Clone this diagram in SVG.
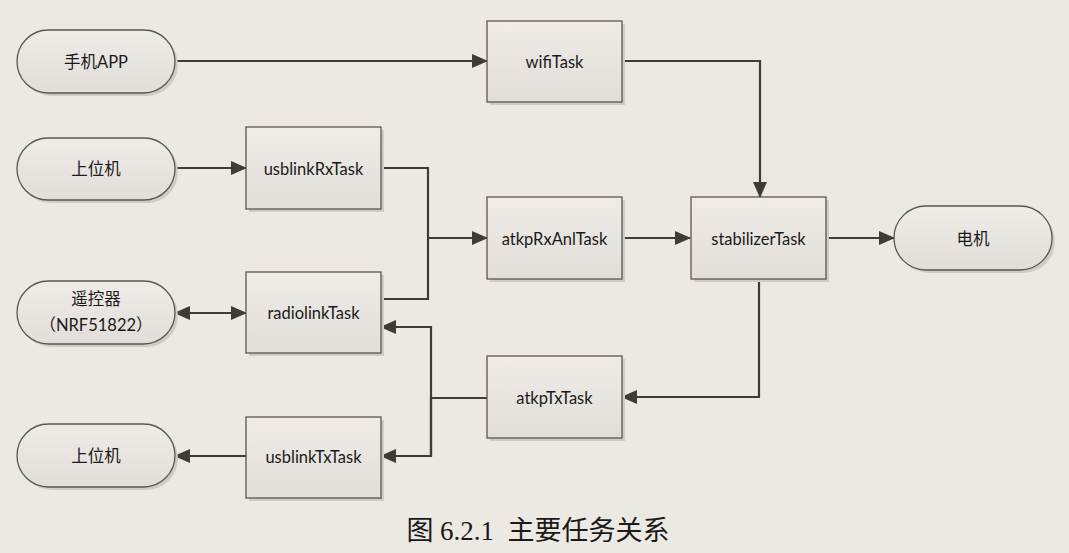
<svg xmlns="http://www.w3.org/2000/svg" width="1069" height="553" viewBox="0 0 1069 553">
<defs>
<linearGradient id="g" x1="0" y1="0" x2="0" y2="1">
<stop offset="0" stop-color="#efece8"/>
<stop offset="1" stop-color="#e1ded9"/>
</linearGradient>
<marker id="ah" markerWidth="16" markerHeight="14" refX="15" refY="7" orient="auto-start-reverse" markerUnits="userSpaceOnUse">
<path d="M0,0 L16,7 L0,14 Z" fill="#3f3b37"/>
</marker>
<style>
.box{fill:url(#g);stroke:#5a5652;stroke-width:1.3}
.sh{fill:#cfcbc6}
.t{font-family:Lato,"Noto Sans CJK SC",sans-serif;font-size:16.5px;fill:#1a1a1a;text-anchor:middle;dominant-baseline:central}
.c{fill:none;stroke:#3f3b37;stroke-width:2.2}
.cap{font-family:"Liberation Serif","Noto Sans CJK SC",serif;font-size:27px;fill:#1a1a1a;text-anchor:middle}
</style>
</defs>
<rect width="1069" height="553" fill="#ece8e2"/>
<g id="connectors">
<path class="c" d="M175,61 H487" marker-end="url(#ah)"/>
<path class="c" d="M622,61 H760 V197" marker-end="url(#ah)"/>
<path class="c" d="M175,168 H246" marker-end="url(#ah)"/>
<path class="c" d="M381,168 H428 V299 H381"/>
<path class="c" d="M428,238 H487" marker-end="url(#ah)"/>
<path class="c" d="M622,238 H690" marker-end="url(#ah)"/>
<path class="c" d="M826,238 H894" marker-end="url(#ah)"/>
<path class="c" d="M175,313 H246" marker-start="url(#ah)" marker-end="url(#ah)"/>
<path class="c" d="M759,279 V397 H622" marker-end="url(#ah)"/>
<path class="c" d="M487,398 H431"/>
<path class="c" d="M431,456 V327 H381" marker-end="url(#ah)"/>
<path class="c" d="M431,398 V456 H381" marker-end="url(#ah)"/>
<path class="c" d="M246,456 H175" marker-end="url(#ah)"/>
</g>
<g id="phone">
<rect class="sh" x="20" y="33" width="158" height="63" rx="31.5"/>
<rect class="box" x="17" y="30" width="158" height="63" rx="31.5"/>
<text class="t" x="96" y="61.5">手机APP</text>
</g>
<g id="host1">
<rect class="sh" x="20" y="141" width="158" height="62" rx="31"/>
<rect class="box" x="17" y="138" width="158" height="62" rx="31"/>
<text class="t" x="96" y="169">上位机</text>
</g>
<g id="remote">
<rect class="sh" x="20" y="284" width="158" height="63" rx="31.5"/>
<rect class="box" x="17" y="281" width="158" height="63" rx="31.5"/>
<text class="t" x="96" y="299">遥控器</text>
<text class="t" x="96" y="325">（NRF51822）</text>
</g>
<g id="host2">
<rect class="sh" x="20" y="427" width="158" height="63" rx="31.5"/>
<rect class="box" x="17" y="424" width="158" height="63" rx="31.5"/>
<text class="t" x="96" y="456">上位机</text>
</g>
<g id="motor">
<rect class="sh" x="897" y="209" width="158" height="64" rx="32"/>
<rect class="box" x="894" y="206" width="158" height="64" rx="32"/>
<text class="t" x="973" y="238.5">电机</text>
</g>
<g id="wifiTask">
<rect class="sh" x="490" y="24" width="135" height="81"/>
<rect class="box" x="487" y="21" width="135" height="81"/>
<text class="t" x="554.5" y="62">wifiTask</text>
</g>
<g id="usblinkRxTask">
<rect class="sh" x="249" y="130" width="135" height="82"/>
<rect class="box" x="246" y="127" width="135" height="82"/>
<text class="t" x="313.5" y="168.5">usblinkRxTask</text>
</g>
<g id="radiolinkTask">
<rect class="sh" x="249" y="275" width="135" height="81"/>
<rect class="box" x="246" y="272" width="135" height="81"/>
<text class="t" x="313.5" y="313">radiolinkTask</text>
</g>
<g id="usblinkTxTask">
<rect class="sh" x="249" y="420" width="135" height="81"/>
<rect class="box" x="246" y="417" width="135" height="81"/>
<text class="t" x="313.5" y="457">usblinkTxTask</text>
</g>
<g id="atkpRxAnlTask">
<rect class="sh" x="490" y="200" width="135" height="82"/>
<rect class="box" x="487" y="197" width="135" height="82"/>
<text class="t" x="554.5" y="239">atkpRxAnlTask</text>
</g>
<g id="stabilizerTask">
<rect class="sh" x="694" y="200" width="135" height="82"/>
<rect class="box" x="691" y="197" width="135" height="82"/>
<text class="t" x="758.5" y="239">stabilizerTask</text>
</g>
<g id="atkpTxTask">
<rect class="sh" x="490" y="359" width="135" height="82"/>
<rect class="box" x="487" y="356" width="135" height="82"/>
<text class="t" x="554.5" y="398">atkpTxTask</text>
</g>
<text class="cap" x="538" y="540" xml:space="preserve">图 6.2.1  主要任务关系</text>
</svg>
